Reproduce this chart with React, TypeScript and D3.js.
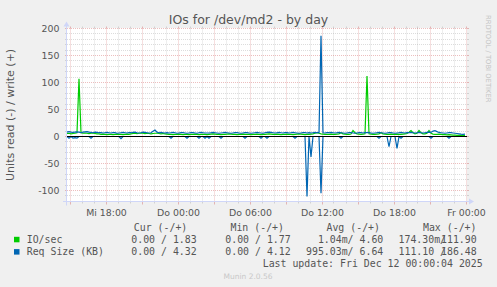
import React from "react";
import * as d3 from "d3";

// ---- time frame (10-minute samples) ----
const START = new Date(2025, 11, 10, 14, 45);
const END = new Date(2025, 11, 12, 0, 5);
const STEP_MIN = 10;

// IO/sec write (+)
const ioWrite = [
  5.5, 6, 5, 5.5, 6, 7, 107, 7, 6, 6.5, 6, 5.5, 6, 6, 5.5, 5, 5, 4, 4.5, 4,
  3.5, 4, 4, 3.5, 4, 4.5, 4, 4, 3.5, 4, 4.5, 4, 5, 5.5, 6, 5.5, 6, 6.5, 6, 5.5,
  6, 5.5, 5, 5.5, 6, 6, 5.5, 5, 5.5, 5, 4.5, 4, 4, 3.5, 4, 4, 4.5, 4, 3.5, 4,
  4, 3.5, 4, 4, 4.5, 4, 3.5, 4, 4, 4, 3.5, 4, 4.5, 5, 4.5, 4, 4, 3.5, 4, 4,
  4.5, 5, 4.5, 4, 4, 3.5, 4, 4, 4.5, 4, 4, 4, 3.5, 4, 4, 4.5, 4, 3.5, 4, 4,
  4.5, 5, 4.5, 4, 4, 4.5, 4, 3.5, 4, 4, 4.5, 4, 4, 3.5, 4, 4.5, 5, 4.5, 4, 3.5,
  4, 4, 4.5, 5, 6, 7, 6, 5, 4.5, 4, 4, 4, 4.5, 4, 4, 4.5, 5, 7, 5, 4.5,
  4, 4, 4.5, 11, 7, 5, 4.5, 4, 4.5, 5, 111.9, 5, 4.5, 4, 4, 4.5, 5, 7, 5, 4.5,
  4, 4, 4.5, 4, 4, 4.5, 4, 4, 4.5, 5, 5.5, 8, 11, 7, 5, 6, 11, 7, 5, 5,
  6, 11, 6, 4.5, 4, 4, 4.5, 4, 3.5, 3.5, 3, 3.5, 3, 2.5, 2.5, 2, 2, 2, 1.77, 1.83,
];

// IO/sec read (-)
const ioRead = [
  0, 0, 0, 0, 0, 0, 0, 0, 0, 0, 0, 0, 0, 0, 0, 0, 0, 0, 0, 0,
  0, 0, 0, 0, 0, 0, 0, 0, 0, 0, 0, 0, 0, 0, 0, 0, 0, 0, 0, 0,
  0, 0, 0, 0, 0, 0, 0, 0, 0, 0, 0, 0, 0, 0, 0, 0, 0, 0, 0, 0,
  0, 0, 0, 0, 0, 0, 0, 0, 0, 0, 0, 0, 0, 0, 0, 0, 0, 0, 0, 0,
  0, 0, 0, 0, 0, 0, 0, 0, 0, 0, 0, 0, 0, 0, 0, 0, 0, 0, 0, 0,
  0, 0, 0, 0, 0, 0, 0, 0, 0, 0, 0, 0, 0, 0, 0, 0, 0, 0, 0, 0,
  0, 0, 0, 0, 0, 0, 0, 0, 0, 0, 0, 0, 0, 0, 0, 0, 0, 0, 0, 0,
  0, 0, 0, 0, 0, 0, 0, 0, 0, 0, 0, 0, 0, 0, 0, 0, 0, 0, 0, 0,
  0, 0, 0, 0, 0, 0, 0, 0, 0, 0, 0, 0, 0, 0, 0, 0, 0, 0, 0, 0,
  0, 0, 0, 0, 0, 0, 0, 0, 0, 0, 0, 0, 0, 0, 0, 0, 0, 0, 0, 0,
];

// Req Size (KB) write (+)
const reqWrite = [
  8, 9, 8, 7.5, 8, 8.5, 8, 7, 8, 8.5, 9, 8, 7.5, 7, 8, 7.5, 7, 7, 6.5, 7,
  7.5, 7, 6.5, 7, 7, 6, 6.5, 7, 7.5, 7, 6.5, 7, 7, 7.5, 8, 7, 6.5, 7, 8, 7.5,
  7, 6.5, 7, 9.5, 12, 8, 7, 7.5, 7, 6.5, 7, 6.5, 7, 7.5, 7, 6, 6.5, 7, 7, 6.5,
  6, 6.5, 7, 7, 6.5, 6, 7, 7.5, 7, 6.5, 6.5, 6.5, 7, 7.5, 7, 6.5, 6, 6.5, 7, 7.5,
  7, 6.5, 6, 6.5, 7, 7, 6.5, 6, 6.5, 7, 7, 6.5, 6, 6.5, 7, 7.5, 7, 6.5, 6, 7,
  7.5, 8, 7.5, 7, 6.5, 7, 7.5, 7, 6.5, 7, 7, 6.5, 7, 7.5, 7, 6.5, 6, 6.5, 7, 7,
  6.5, 7, 6.5, 7, 7.5, 7, 7, 186.48, 7, 6.5, 7, 7, 7.5, 7, 6.5, 7, 7.5, 7, 6.5, 6,
  6.5, 7, 7, 6.5, 6, 6.5, 7, 7, 6.5, 7, 7, 7, 6.5, 6, 6.5, 7, 7.5, 7, 6.5, 6,
  6.5, 7, 7, 6.5, 6, 6.5, 7, 7.5, 7, 6.5, 7, 7, 7.5, 7, 6.5, 7, 7.5, 7, 6.5, 7,
  7.5, 8, 7.5, 10, 11, 9, 7.5, 7, 6.5, 6, 6.5, 7, 7, 6.5, 6, 5.5, 5, 4.5, 4.12, 4.32,
];

// Req Size (KB) read (-)
const reqRead = [
  0, 3, 0, 3, 2, 3, 0, 0, 0, 0, 0, 0, 3, 0, 0, 0, 0, 0, 0, 0,
  0, 0, 0, 0, 0, 0, 0, 4, 0, 0, 0, 0, 0, 0, 0, 0, 0, 0, 0, 0,
  0, 0, 0, 0, 0, 0, 0, 0, 0, 0, 0, 0, 3, 0, 0, 0, 0, 0, 0, 0,
  3, 0, 0, 0, 0, 0, 3, 0, 0, 3, 0, 3, 0, 0, 0, 0, 0, 3, 0, 0,
  0, 0, 0, 0, 0, 0, 0, 0, 0, 3, 0, 0, 0, 0, 0, 0, 0, 3, 0, 0,
  3, 0, 0, 0, 0, 0, 0, 0, 0, 0, 0, 0, 0, 0, 3, 0, 0, 0, 0, 0,
  111.1, 0, 38, 0, 0, 0, 0, 105, 0, 0, 0, 0, 0, 0, 0, 0, 0, 3, 0, 0,
  0, 0, 0, 0, 0, 0, 0, 0, 0, 0, 0, 0, 0, 0, 0, 0, 3, 0, 0, 0,
  0, 19, 0, 0, 0, 22, 0, 3, 0, 0, 0, 0, 0, 0, 0, 0, 0, 0, 0, 0,
  0, 0, 3, 0, 0, 0, 0, 0, 0, 0, 0, 3, 0, 0, 0, 0, 0, 0, 0, 0,
];

const yTicks = [200, 150, 100, 50, 0, -50, -100];
const yMinor = [190, 180, 170, 160, 140, 130, 120, 110, 90, 80, 70, 60, 40, 30, 20, 10, -10, -20, -30, -40, -60, -70, -80, -90, -110];
const xTickLabels = ["Mi 18:00", "Do 00:00", "Do 06:00", "Do 12:00", "Do 18:00", "Fr 00:00"];
const xTickTimes = [
  new Date(2025, 11, 10, 18), new Date(2025, 11, 11, 0), new Date(2025, 11, 11, 6),
  new Date(2025, 11, 11, 12), new Date(2025, 11, 11, 18), new Date(2025, 11, 12, 0),
];

const seriesNames = ["IO/sec", "Req Size (KB)"];
const seriesColors = ["#00CC00", "#0066B3"];
const legendHeaders = ["Cur (-/+)", "Min (-/+)", "Avg (-/+)", "Max (-/+)"];
const ioStats = ["0.00 / 1.83", "0.00 / 1.77", "1.04m/ 4.60", "174.30m/", "111.90"];
const reqStats = ["0.00 / 4.32", "0.00 / 4.12", "995.03m/ 6.64", "111.10 /", "186.48"];
const titleText = "IOs for /dev/md2 - by day";
const yTitle = "Units read (-) / write (+)";
const lastUpdate = "Last update: Fri Dec 12 00:00:04 2025";
const munin = "Munin 2.0.56";
const watermark = "RRDTOOL / TOBI OETIKER";

const snap = (v: number) => Math.round(v - 0.5) + 0.5;

export default function App() {
  const W = 497, H = 287;
  const X0 = 67, X1 = 467, Y0 = 201.3, Y1 = 28.5;
  const x = d3.scaleTime().domain([START, END]).range([X0, X1]);
  const y = d3.scaleLinear().domain([-120, 200]).range([Y0, Y1]);
  const t = (i: number) => d3.timeMinute.offset(START, i * STEP_MIN);

  const linePos = d3.line<number>().x((_, i) => x(t(i))).y((d) => y(d));
  const lineNeg = d3.line<number>().x((_, i) => x(t(i))).y((d) => y(-d));

  const hours = d3.timeHour.range(START, END);
  const minorGrid = "rgba(140,140,140,0.3)";
  const majorGrid = "rgba(200,70,70,0.35)";
  const axisCol = "#CFD6F8";
  const fontCol = "#555";
  const sans = "'DejaVu Sans', sans-serif";
  const mono = "'DejaVu Sans Mono', monospace";
  const yb = snap(Y0);
  const yt = snap(Y1);

  const legCols = [187.3, 284, 380, 476.5];
  const valEnds = [196.7, 290.7, 383.3];

  return (
    <svg width={W} height={H} style={{ position: "absolute", left: 0, top: 0, display: "block" }}>
      <rect x={0} y={0} width={W} height={H} fill="#F0F0F0" />
      <rect x={X0} y={Y1 - 0.5} width={X1 - X0} height={Y0 - Y1 + 0.5} fill="#FFFFFF" />

      {/* minor horizontal grid */}
      {yMinor.map((v) => {
        const yy = snap(y(v));
        return (
          <g key={"hm" + v}>
            <line x1={X0 - 2} x2={X0} y1={yy} y2={yy} stroke={minorGrid} />
            <line x1={X1} x2={X1 + 2} y1={yy} y2={yy} stroke={minorGrid} />
            <line x1={X0} x2={X1} y1={yy} y2={yy} stroke={minorGrid} strokeDasharray="1,1" />
          </g>
        );
      })}
      {/* minor vertical grid */}
      {hours.filter((h) => h.getHours() % 3 !== 0).map((h) => {
        const xx = snap(x(h));
        return (
          <g key={"vm" + h.getTime()}>
            <line x1={xx} x2={xx} y1={yt - 2} y2={yt} stroke={minorGrid} />
            <line x1={xx} x2={xx} y1={yb} y2={yb + 2} stroke={minorGrid} />
            <line x1={xx} x2={xx} y1={yt} y2={yb} stroke={minorGrid} strokeDasharray="1,1" />
          </g>
        );
      })}
      {/* major horizontal grid */}
      {yTicks.map((v) => {
        const yy = snap(y(v));
        return (
          <g key={"hM" + v}>
            <line x1={X0 - 2} x2={X0} y1={yy} y2={yy} stroke={majorGrid} />
            <line x1={X1} x2={X1 + 2} y1={yy} y2={yy} stroke={majorGrid} />
            <line x1={X0} x2={X1} y1={yy} y2={yy} stroke={majorGrid} strokeDasharray="1,1" />
          </g>
        );
      })}
      {/* major vertical grid */}
      {hours.filter((h) => h.getHours() % 3 === 0).map((h) => {
        const xx = snap(x(h));
        return (
          <g key={"vM" + h.getTime()}>
            <line x1={xx} x2={xx} y1={yt - 2} y2={yt} stroke={majorGrid} />
            <line x1={xx} x2={xx} y1={yb} y2={yb + 3} stroke={majorGrid} />
            <line x1={xx} x2={xx} y1={yt} y2={yb} stroke={majorGrid} strokeDasharray="1,1" />
          </g>
        );
      })}

      {/* data */}
      <path d={lineNeg(ioRead) || ""} fill="none" stroke={seriesColors[0]} strokeWidth={1.2} />
      <path d={linePos(ioWrite) || ""} fill="none" stroke={seriesColors[0]} strokeWidth={1.2} />
      <path d={lineNeg(reqRead) || ""} fill="none" stroke={seriesColors[1]} strokeWidth={1.2} />
      <path d={linePos(reqWrite) || ""} fill="none" stroke={seriesColors[1]} strokeWidth={1.2} />

      {/* zero rule */}
      <line x1={X0} x2={X1} y1={snap(y(0))} y2={snap(y(0))} stroke="#000" strokeWidth={1} />

      {/* axes */}
      <line x1={X0 - 4} x2={X1 + 4} y1={yb} y2={yb} stroke={axisCol} />
      <line x1={X0 - 0.5} x2={X0 - 0.5} y1={yb + 4} y2={yt - 4} stroke={axisCol} />
      <path d={`M${X1 + 2},${yb - 3}L${X1 + 2},${yb + 3}L${X1 + 7},${yb}Z`} fill={axisCol} />
      <path d={`M${X0 - 3.5},${yt - 2}L${X0 + 2.5},${yt - 2}L${X0 - 0.5},${yt - 7}Z`} fill={axisCol} />

      {/* y labels */}
      {yTicks.map((v) => (
        <text key={"yl" + v} x={59.5} y={snap(y(v)) + 3.3} textAnchor="end" fontFamily={sans} fontSize={9.4} fill={fontCol}>
          {v}
        </text>
      ))}
      {/* x labels */}
      {xTickTimes.map((d, i) => (
        <text key={"xl" + i} x={snap(x(d))} y={215.7} textAnchor="middle" fontFamily={sans} fontSize={9.4} fill={fontCol}>
          {xTickLabels[i]}
        </text>
      ))}

      {/* titles */}
      <text x={248.5} y={24.3} textAnchor="middle" fontFamily={sans} fontSize={12.5} fill={fontCol}>
        {titleText}
      </text>
      <text transform={`translate(14,${(Y0 + Y1) / 2}) rotate(-90)`} textAnchor="middle" fontFamily={sans} fontSize={11} fill={fontCol}>
        {yTitle}
      </text>
      <text transform="translate(485.5,15) rotate(90)" textAnchor="start" fontFamily={sans} fontSize={6.8} fill="#C4C4C4">
        {watermark}
      </text>

      {/* legend */}
      {legendHeaders.map((h, i) => (
        <text key={"lh" + i} x={legCols[i]} y={231} textAnchor="end" fontFamily={mono} fontSize={9.9} fill={fontCol} xmlSpace="preserve">
          {h}
        </text>
      ))}
      {[ioStats, reqStats].map((stats, r) => {
        const by = 242.8 + r * 12.3;
        return (
          <g key={"lr" + r}>
            <rect x={14} y={by - 6} width={5.5} height={5.5} fill={seriesColors[r]} />
            <text x={26.7} y={by} fontFamily={mono} fontSize={9.9} fill={fontCol} xmlSpace="preserve">
              {seriesNames[r]}
            </text>
            {valEnds.map((xe, i) => (
              <text key={i} x={xe} y={by} textAnchor="end" fontFamily={mono} fontSize={9.9} fill={fontCol} xmlSpace="preserve">
                {stats[i]}
              </text>
            ))}
            <text x={398.5} y={by} fontFamily={mono} fontSize={9.9} fill={fontCol} xmlSpace="preserve">
              {stats[3]}
            </text>
            <text x={476.7} y={by} textAnchor="end" fontFamily={mono} fontSize={9.9} fill={fontCol} xmlSpace="preserve">
              {stats[4]}
            </text>
          </g>
        );
      })}
      <text x={482.7} y={266.8} textAnchor="end" fontFamily={mono} fontSize={9.9} fill={fontCol} xmlSpace="preserve">
        {lastUpdate}
      </text>
      <text x={248} y={278.5} textAnchor="middle" fontFamily={sans} fontSize={7.5} fill="#C8C8C8">
        {munin}
      </text>
    </svg>
  );
}
